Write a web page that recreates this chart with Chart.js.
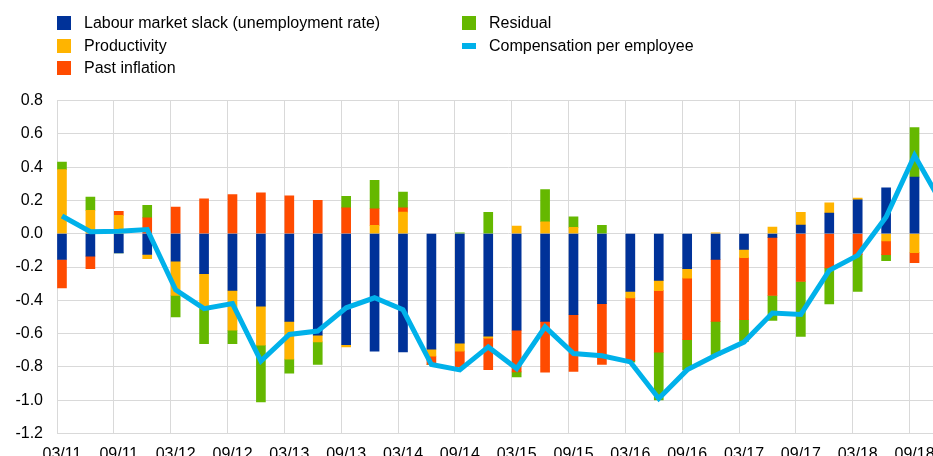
<!DOCTYPE html>
<html>
<head>
<meta charset="utf-8">
<script src="https://cdn.jsdelivr.net/npm/chart.js@4.4.0/dist/chart.umd.min.js"></script>
<style>
  body { margin: 0; background: #fff; overflow: hidden; }
  #wrap { position: relative; width: 933px; height: 456px; overflow: hidden; }
  #chart { position: absolute; left: 0; top: 0; }
  .leg { position: absolute; display: flex; align-items: center; height: 14px;
         font: 16px "Liberation Sans", Arial, sans-serif; color: #000; white-space: nowrap; }
  .leg span.box { display: inline-block; width: 14px; margin-right: 13px; }
</style>
</head>
<body>
<div id="wrap">
  <canvas id="chart" width="960" height="466"></canvas>
</div>
<script>
// quarters, 03/11 .. 12/18
const quarters = ['03/11','06/11','09/11','12/11','03/12','06/12','09/12','12/12',
  '03/13','06/13','09/13','12/13','03/14','06/14','09/14','12/14',
  '03/15','06/15','09/15','12/15','03/16','06/16','09/16','12/16',
  '03/17','06/17','09/17','12/17','03/18','06/18','09/18','12/18'];

const slack = [-0.155, -0.135, -0.115, -0.125, -0.165, -0.24, -0.34, -0.435,
  -0.527, -0.61, -0.667, -0.705, -0.71, -0.693, -0.657, -0.615,
  -0.58, -0.527, -0.487, -0.42, -0.347, -0.28, -0.21, -0.154,
  -0.094, -0.022, 0.052, 0.124, 0.204, 0.275, 0.34, null];
const productivity = [0.385, 0.14, 0.11, -0.025, -0.205, -0.21, -0.24, -0.235,
  -0.226, -0.04, -0.013, 0.05, 0.13, -0.042, -0.048, -0.012,
  0.046, 0.072, 0.038, 0, -0.038, -0.062, -0.057, 0.005,
  -0.05, 0.04, 0.076, 0.062, 0.01, -0.044, -0.114, null];
const pastInflation = [-0.17, -0.075, 0.025, 0.095, 0.16, 0.21, 0.235, 0.245,
  0.228, 0.2, 0.155, 0.1, 0.025, -0.05, -0.095, -0.19,
  -0.25, -0.305, -0.34, -0.365, -0.377, -0.37, -0.37, -0.373,
  -0.373, -0.349, -0.287, -0.206, -0.126, -0.082, -0.06, null];
const residual = [0.045, 0.08, 0, 0.075, -0.13, -0.21, -0.08, -0.34,
  -0.085, -0.135, 0.07, 0.17, 0.095, 0, 0.005, 0.128,
  -0.03, 0.193, 0.064, 0.05, -0.01, -0.287, -0.18, -0.204,
  -0.13, -0.15, -0.33, -0.215, -0.22, -0.036, 0.297, null];
const compensation = [0.106, 0.012, 0.015, 0.025, -0.337, -0.45, -0.42, -0.765,
  -0.605, -0.585, -0.445, -0.385, -0.457, -0.786, -0.818, -0.68,
  -0.81, -0.56, -0.72, -0.733, -0.77, -0.99, -0.818, -0.73,
  -0.651, -0.477, -0.485, -0.22, -0.13, 0.1, 0.47, 0.17];

const FONT = '"Liberation Sans", Arial, sans-serif';
const GRID = '#d9d9d9';
const SHIFT = 0.175; // gridlines sit at the left edge of each bar

const pts = arr => arr.map((v, i) => ({ x: i, y: v }));
const bar = (label, arr, color) => ({
  type: 'bar', label, data: pts(arr), backgroundColor: color,
  barThickness: 9, borderWidth: 0
});

const datasets = [
  { type: 'line', label: 'Compensation per employee', data: pts(compensation),
    borderColor: '#00b1ea', backgroundColor: '#00b1ea', borderWidth: 5,
    pointRadius: 0, tension: 0, stack: 'line', order: -1 },
  bar('Labour market slack (unemployment rate)', slack, '#003299'),
  bar('Productivity', productivity, '#ffb400'),
  bar('Past inflation', pastInflation, '#ff4b00'),
  bar('Residual', residual, '#65b800')
];

const chart = new Chart(document.getElementById('chart').getContext('2d'), {
  type: 'bar',
  data: { datasets },
  options: {
    responsive: false,
    animation: false,
    devicePixelRatio: 1,
    layout: { padding: { top: 100.5, bottom: 2.5, left: 0, right: 0 } },
    plugins: { legend: { display: false }, tooltip: { enabled: false } },
    scales: {
      x: {
        type: 'linear', stacked: true, offset: false,
        min: -SHIFT, max: 31.6,
        afterBuildTicks: s => {
          s.ticks = quarters.map((q, i) => i).filter(i => i % 2 === 0)
            .map(i => ({ value: i - SHIFT }));
        },
        afterFit: s => { s.height = 30; },
        grid: { color: GRID, drawTicks: false, offset: false },
        border: { color: GRID },
        ticks: {
          callback: v => quarters[Math.round(v + SHIFT)],
          labelOffset: 5, padding: 11, maxRotation: 0, autoSkip: false,
          color: '#000', font: { family: FONT, size: 16 }
        }
      },
      y: {
        stacked: true, min: -1.2, max: 0.8,
        afterFit: s => { s.width = 57; },
        grid: { color: GRID, drawTicks: false },
        border: { display: false },
        ticks: {
          stepSize: 0.2, padding: 14, color: '#000',
          font: { family: FONT, size: 16 },
          callback: v => Math.abs(v) < 1e-9 ? '0.0' : v.toFixed(1)
        }
      }
    }
  }
});

// legend in two columns, as in the original
const legendOrder = [1, 2, 3, 4, 0];
const slots = [[57, 16], [57, 38.5], [57, 61], [462, 16], [462, 38.5]];
legendOrder.forEach((di, k) => {
  const ds = chart.data.datasets[di];
  const item = document.createElement('div');
  item.className = 'leg';
  item.style.left = slots[k][0] + 'px';
  item.style.top = slots[k][1] + 'px';
  const box = document.createElement('span');
  box.className = 'box';
  box.style.background = ds.backgroundColor;
  box.style.height = ds.type === 'line' ? '6px' : '14px';
  item.appendChild(box);
  item.appendChild(document.createTextNode(ds.label));
  document.getElementById('wrap').appendChild(item);
});
</script>
</body>
</html>
